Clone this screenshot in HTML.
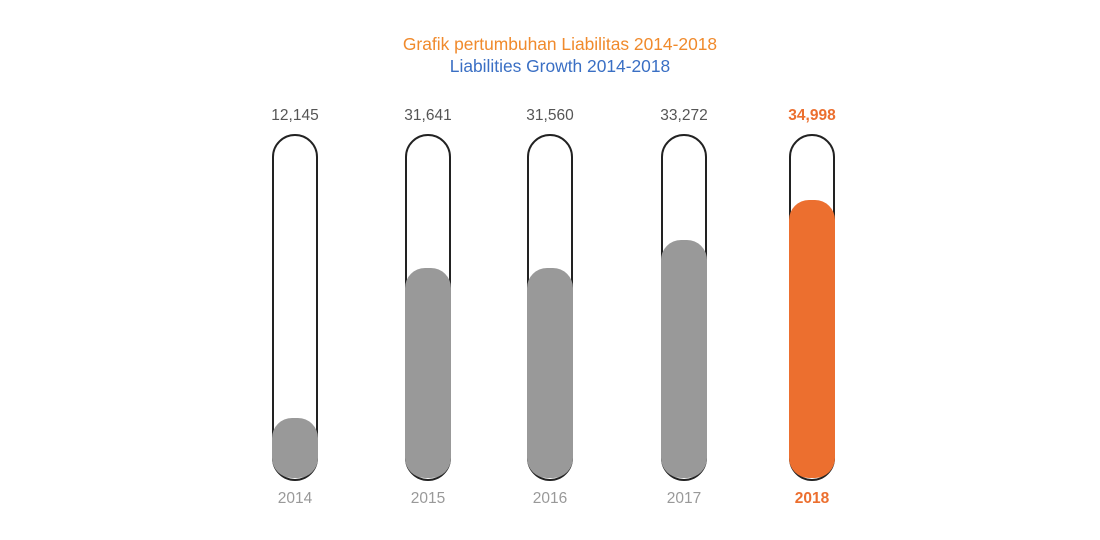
<!DOCTYPE html>
<html><head><style>
body{margin:0;width:1100px;height:540px;background:#fff;overflow:hidden;font-family:"Liberation Sans",sans-serif;}
.t{position:absolute;left:0;width:1120px;text-align:center;font-size:17.4px;}
.v,.y{position:absolute;width:120px;text-align:center;font-size:15.5px;color:#555;}
.y{color:#999;}
</style></head><body>
<div class="t" style="top:34px;color:#f08a2c">Grafik pertumbuhan Liabilitas 2014-2018</div>
<div class="t" style="top:56px;color:#3a6fc4">Liabilities Growth 2014-2018</div>
<svg width="1100" height="540" style="position:absolute;left:0;top:0">
<g stroke="#222" stroke-width="2" fill="none">
<path d="M273 458 V157 A22 22 0 0 1 317 157 V458 A22 22 0 0 1 273 458"/>
<path d="M406 458 V157 A22 22 0 0 1 450 157 V458 A22 22 0 0 1 406 458"/>
<path d="M528 458 V157 A22 22 0 0 1 572 157 V458 A22 22 0 0 1 528 458"/>
<path d="M662 458 V157 A22 22 0 0 1 706 157 V458 A22 22 0 0 1 662 458"/>
<path d="M790 458 V157 A22 22 0 0 1 834 157 V458 A22 22 0 0 1 790 458"/>
</g>
<g fill="#999">
<rect x="272" y="418" width="46" height="60" rx="20"/>
<rect x="405" y="268" width="46" height="210" rx="20"/>
<rect x="527" y="268" width="46" height="210" rx="20"/>
<rect x="661" y="240" width="46" height="238" rx="20"/>
</g>
<rect x="789" y="200" width="46" height="278" rx="20" fill="#ec6f2f"/>
</svg>
<div class="v" style="left:235px;top:107px">12,145</div>
<div class="v" style="left:368px;top:107px">31,641</div>
<div class="v" style="left:490px;top:107px">31,560</div>
<div class="v" style="left:624px;top:107px">33,272</div>
<div class="v" style="left:752px;top:107px;color:#ec6f2f;font-weight:bold">34,998</div>
<div class="y" style="left:235px;top:490px">2014</div>
<div class="y" style="left:368px;top:490px">2015</div>
<div class="y" style="left:490px;top:490px">2016</div>
<div class="y" style="left:624px;top:490px">2017</div>
<div class="y" style="left:752px;top:490px;color:#ec6f2f;font-weight:bold">2018</div>
</body></html>
